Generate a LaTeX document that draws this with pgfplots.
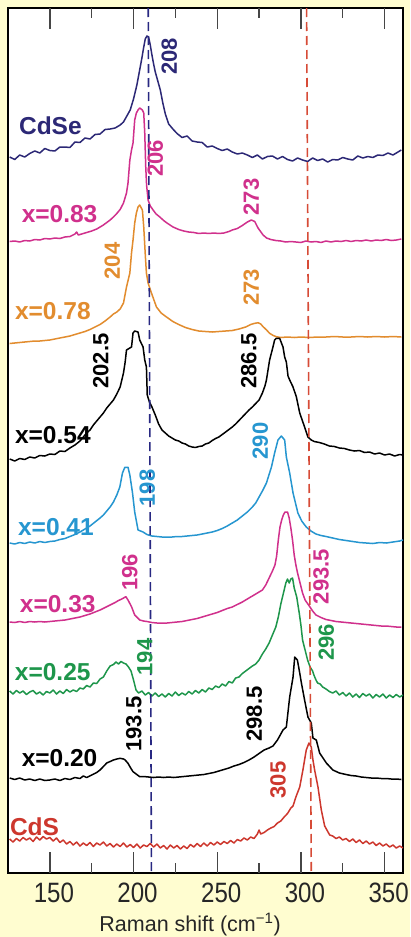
\documentclass[border=0pt]{standalone}
\usepackage{fontspec}
\setmainfont{Liberation Sans}
\newfontfamily\tickfont{Liberation Sans}[FakeStretch=0.86]
\usepackage{pgfplots}
\pgfplotsset{compat=1.18}

\definecolor{bgyellow}{RGB}{255,253,208}
\definecolor{cdse}{RGB}{44,40,118}
\definecolor{mag}{RGB}{208,48,140}
\definecolor{orng}{RGB}{226,140,46}
\definecolor{cyanb}{RGB}{38,150,208}
\definecolor{grn}{RGB}{30,150,75}
\definecolor{cds}{RGB}{205,55,45}
\definecolor{dashnavy}{RGB}{40,40,130}
\definecolor{dashred}{RGB}{215,75,55}
\definecolor{tickgray}{RGB}{70,70,70}

\tikzset{
  serieslabel/.style={anchor=west, inner sep=0pt, font=\bfseries\fontsize{24.5}{24.5}\selectfont},
  peaklabel/.style={rotate=90, inner sep=0pt, font=\bfseries\fontsize{22}{22}\selectfont},
  spec/.style={line width=1.5pt, line join=round},
  tickmark/.style={draw=tickgray, line width=1.4pt},
}

\begin{document}
\begin{tikzpicture}
\useasboundingbox (0,0) rectangle (410pt,937pt);
\fill[bgyellow] (0,0) rectangle (410pt,937pt);
\begin{axis}[
  at={(8pt,64pt)}, anchor=south west,
  width=395pt, height=865pt, scale only axis,
  xmin=125, xmax=361, ymin=8, ymax=873, y dir=reverse,
  axis background/.style={fill=white},
  axis line style={line width=1.6pt, black},
  xtick={150,200,250,300,350},
  ytick=\empty,
  major tick length=0pt,
  /pgf/number format/assume math mode=true,
  xticklabel style={font=\tickfont\fontsize{28}{28}\selectfont, text=black!85, xshift=4pt, yshift=-6pt},
  xlabel={Raman shift (cm\textsuperscript{−1})},
  xlabel style={font=\fontsize{21.5}{21.5}\selectfont, text=black!85, at={(axis description cs:0.461,0)}, anchor=north, inner sep=0pt, yshift=-40pt},
]

% tick marks on the lower and upper edges: major every 50, minor halfway
\pgfplotsinvokeforeach{150,200,250,300,350}{
  \addplot[tickmark] coordinates {(#1,873) (#1,852)};
  \addplot[tickmark] coordinates {(#1,8) (#1,29)};
}
\pgfplotsinvokeforeach{175,225,275,325}{
  \addplot[tickmark] coordinates {(#1,873) (#1,863)};
  \addplot[tickmark] coordinates {(#1,8) (#1,18)};
}

% CdSe
\addplot[spec, cdse] coordinates {
(126,157) (129,159.5) (132,155) (135,157) (138,153.5) (141,151) (144,153) (147,148.5) (150,150.5) (153,151)
(156,147) (159,147) (162,147.5) (165,142) (168,142.5) (171,138) (174,139) (177,134.5) (180,134) (183,129.5)
(186,129) (189,128) (192,125) (194,122) (196,116) (198,110) (200,99) (202,85) (203,76) (204,67) (205,58)
(206,48) (207,39) (208,36) (209,37) (210,45) (211,55) (212,64) (213,72) (214,78) (215,84) (216,90)
(217.5,103) (219,114) (221,124) (223.5,129) (226,133.5) (229,137.5) (232,136) (235,141) (238,142) (241,142.5)
(244,147) (247,146) (250,148.5) (253,150.5) (256,149) (259,152) (262,154) (265,153) (268,155) (271,157.5)
(274,155) (277,159) (280,156.5) (283,156) (286,159) (289,156.5) (292,159.5) (295,161) (298,158) (301,160)
(304,161.5) (307,158) (310,160.5) (313,159) (316,162) (319,159.5) (322,160) (325,157.5) (328,159) (331,160)
(334,156) (337,158) (340,156.5) (343,157.5) (346,155) (349,155.5) (352,153) (355,155) (358,152) (360,150)
};

% x = 0.83
\addplot[spec, mag] coordinates {
(126,241.5) (129,241) (132,242) (135,240.5) (138,241) (141,239.5) (144,240) (147,238.5) (150,239) (153,238)
(156,238.5) (159,237) (162,236.5) (165,234) (166,232) (167,235) (169,234) (172,232.5) (175,231) (178,229)
(180,227) (182,225) (184,222.5) (186,220) (188,217) (190,213.5) (192,209.5) (194,203) (195.8,193) (196.7,183)
(197.8,160) (198.8,150) (199.7,143) (200.7,120) (201.7,113) (202.7,110) (203.7,108) (205.3,110) (206.1,113)
(206.7,133) (207.3,167) (207.8,185) (208.7,200) (210,206) (211.7,210) (213.5,214) (215.7,217) (218,220.5)
(220,223) (223.6,227) (227,229.5) (230,231) (233,232) (236,232.5) (239,233.5) (242,233) (245,233.5) (248,233)
(251,233.5) (254,233) (257,231.5) (259,230) (262,228.5) (265,225.5) (268,222) (270.4,220) (272.4,221.5)
(274.4,228) (277.4,235) (279.5,238) (282,239.5) (285,240.5) (288,241) (291,242) (294,241.5) (297,242)
(300,242.5) (303,241) (306,242) (309,241.5) (312,242.5) (315,241) (318,242) (321,241) (324,241.5) (327,240.5)
(330,241.5) (333,240.5) (336,241) (339,240) (342,241) (345,240) (348,240.5) (351,239.5) (354,240.5) (357,240) (360,239)
};

% x = 0.78
\addplot[spec, orng] coordinates {
(126,343.5) (129,343) (132,342.5) (135,342) (138,341.5) (141,341) (144,341) (147,340.5) (150,340) (153,339)
(156,338) (159,337) (162,336) (165,334.5) (168,333) (171,331.5) (174,329.5) (177,327) (180,324.5) (183,321)
(186,317) (188,314) (190,312) (192,309) (194,303) (195.8,287) (197.8,273) (198.8,253) (199.7,240) (200.7,223)
(201.7,213) (202.7,207) (203.7,205) (205.3,210) (206.1,227) (207.1,257) (207.7,273) (208.7,283) (210.7,293)
(213.7,307) (216.5,313) (219.7,317) (223.5,321.5) (227,324.5) (231,327.5) (235,329.5) (239,331) (243,331.5)
(247,332) (251,331.5) (255,331) (259,330.5) (263,329) (267,327) (270,324.5) (272,323.5) (274.4,322.7) (276,324)
(277.4,326.7) (279.5,330) (281.3,333.3) (283.5,335.5) (285.3,336.7) (288,337.5) (292,337) (296,337.5) (300,337)
(305,337.5) (310,337) (315,337) (320,336.5) (325,337) (330,337) (335,336.5) (340,337) (345,336.5) (350,337) (355,336.5) (360,337)
};

% x = 0.54
\addplot[spec, black] coordinates {
(126,459) (129,461) (132,458.5) (135,459.5) (138,457) (141,458) (144,455.5) (147,456) (150,454) (153,454.5)
(156,451) (159,451.5) (162,448) (165,445) (168,441) (170,437) (172,433) (174,430) (176,425) (178,421)
(180,417) (182,413) (184,408) (186,404) (188,400) (190,394) (192,387) (194,373) (195,362) (195.8,350)
(198.8,347) (199.7,333) (200.7,331) (202.7,332) (203.7,340) (205.7,347) (206.7,360) (207.7,367) (208.2,395)
(209.5,402) (211,407) (213,415) (215,424) (217,430) (219,433) (221,436) (223,438) (225,440) (227,441)
(229,443) (231,444) (233,446) (235,447) (237,447.5) (239,446.5) (241,446) (243,444) (245,443) (247,440.5)
(249,438.5) (251,437) (253,434.5) (255,432) (257,429.5) (259,427) (261,424) (263,420.5) (265,417) (267,413.5)
(269,410) (271,407) (273,403.5) (275,400) (277,393) (278.5,386) (279.4,380) (281.3,360) (283.3,347) (284.3,340)
(285.3,338.3) (287.3,338.3) (289.3,347) (290.3,357) (291.3,362) (292.3,376) (293.3,380) (295.3,387) (297.3,397)
(299.3,413) (302.2,427) (304.2,437) (306.2,440) (308,441.5) (311,442.5) (314,444) (317,446) (320,446.5)
(323,448) (326,448.5) (329,450) (332,451) (335,450.5) (338,452.5) (341,452) (344,454) (347,453) (350,455)
(353,454) (356,456) (359,454.5) (361,455)
};

% x = 0.41
\addplot[spec, cyanb] coordinates {
(126,543) (129,544) (132,542.5) (135,543.5) (138,542) (141,543) (144,541.5) (147,542.5) (150,541.5) (153,541)
(156,539.5) (159,538.5) (162,536.5) (165,534.5) (168,532) (171,529) (174,526) (177,522) (180,518) (182,515)
(184,511) (186,507) (188,502) (190,495) (191.8,487) (193.4,473) (194.8,467.3) (196.7,467.3) (197.8,475)
(199.4,493) (200.7,512) (202.7,530) (205.7,532) (208,534.5) (211,536) (214,536.5) (217,537) (220,537)
(223,537) (226,536.5) (229,536.5) (232,536) (235,535.5) (238,535) (241,534) (244,533) (247,532) (250,530.5)
(253,528.5) (256,526) (259,523) (262,520) (265,516) (268,512) (271,507) (273,503) (275,497) (277,491)
(279.4,483) (282.4,467) (284.3,453) (286.3,440) (288.3,436) (290.3,440) (291.3,457) (293.3,473) (295.3,493)
(298.2,513) (300.5,521) (303.2,527) (306,531) (309,534) (312,535.5) (315,536.5) (319,538) (323,539.5)
(327,540.5) (331,541.5) (335,542.5) (339,543) (343,543.5) (347,542.5) (351,543) (355,542) (359,541) (361,540)
};

% x = 0.33
\addplot[spec, mag] coordinates {
(126,622) (129,622.5) (132,621.5) (135,622.5) (138,621.5) (141,622) (144,621.5) (147,622) (150,621.5) (153,621)
(156,620.5) (159,620) (162,619) (165,618) (168,617) (171,615.5) (174,614) (177,612) (180,610) (183,607.5)
(186,605) (189,602.5) (191,600.5) (193,599) (195.4,596.7) (196.7,600) (198.8,606.7) (200.7,615) (203.7,620)
(206,621) (208,621.5) (211,622.5) (214,623) (217,623) (220,623) (223,622.5) (226,622) (229,621.5) (232,620.5)
(235,619.5) (238,618.5) (241,617) (244,615.5) (247,614) (250,612.5) (253,610.5) (256,608.5) (259,607)
(262,604.5) (265,602) (268,599) (271,596) (274,593) (277,590) (279,585) (281,578) (283,571) (284.5,565)
(285.5,556) (286.5,540) (287.5,527) (288.5,520) (289.5,515) (290.5,512) (292,512) (293,518) (294,528)
(295,540) (296,555) (297,565) (298,573) (299.5,583) (301,593) (302.5,600) (305,606) (307,611) (309,615)
(312,617.5) (315,619.5) (318,620.5) (321,621.5) (324,622) (327,622.5) (330,623) (333,623.5) (336,624)
(339,624.5) (342,625) (345,625.5) (348,626) (351,626) (354,626.5) (357,627) (360,627)
};

% x = 0.25
\addplot[spec, grn] coordinates {
(126,691) (128,694) (130,690.5) (132,693) (134,691) (136,694.5) (138,692) (140,690.5) (142,694) (144,692)
(146,695) (148,691.5) (150,693) (152,690) (154,694) (156,691) (158,693.5) (160,689.5) (162,692) (164,690)
(166,691.5) (168,688) (170,689) (172,685.5) (174,687) (176,683) (178,683.5) (180,679) (182,677) (184,671)
(186,666) (188,664.5) (189.5,662) (191,664) (192.5,661.5) (194,663) (195.5,664) (197,667) (198.5,671)
(200,680) (201.5,690) (203,693) (205,691) (207,695) (209,692.5) (211,696) (213,693) (215,696.5) (217,694)
(219,697) (221,693.5) (223,696) (225,692) (227,695.5) (229,693) (231,695) (233,691.5) (235,694) (237,690.5)
(239,693) (241,689.5) (243,692) (245,688) (247,689.5) (249,686) (251,687.5) (253,684) (255,686) (257,681.5)
(259,683) (261,678) (263,677) (265,673.5) (267,671) (269,668.5) (271,666) (273,664) (275,660) (277,654)
(279,649) (281,643) (283,635) (285,627) (286.5,617) (288,604) (289,597) (290,590) (291,583) (292,579)
(293,583) (294,579) (295,578) (296,588) (297.5,597) (299,613) (300,625) (301,640) (302.5,650) (304,660)
(305.5,667) (307,671) (308,676) (309,680) (310,683) (311.5,684) (313,687) (315,689) (317,691.5) (319,693)
(321,691) (323,695) (325,692.5) (327,696) (329,693) (331,697) (333,694) (335,697.5) (337,693.5) (339,696)
(341,694) (343,698) (345,694.5) (347,697) (349,694) (351,698) (353,695) (355,697.5) (357,694.5) (359,697) (361,695)
};

% x = 0.20
\addplot[spec, black] coordinates {
(126,778) (129,779.5) (132,778) (135,780) (138,779) (141,780.5) (144,779) (147,780.5) (150,780) (153,779)
(156,780.5) (159,778.5) (162,779.5) (165,777.5) (168,778.5) (170,776) (172,777.5) (175,775) (178,772.5)
(180,770) (182,766.5) (184,763) (186,761.5) (188,760) (190,759) (192,758.3) (194,759) (195,760) (196.7,763.3)
(198.3,768) (199.7,771.7) (203.7,776.7) (206,776.5) (209,777) (212,777.5) (215,777) (218,777.5) (221,777)
(224,777.5) (227,777) (230,776.5) (233,776) (236,775.5) (239,775) (242,774.5) (245,773.5) (248,772.5)
(251,771) (254,769.5) (257,768) (260,766) (263,764.5) (266,762.5) (269,760) (272,757) (275,753.5) (278,750)
(281,748) (283.3,746) (286,740) (289.3,730) (291.3,727) (293.3,697) (295.3,677) (296.3,657) (297.9,660)
(299.3,673) (300.3,683) (302.2,700) (304.2,717) (306.2,723) (307.2,738) (309.2,740) (311.2,753) (315.2,763)
(319.1,770) (323,773) (327,774.5) (330,775.5) (333,776) (336,777) (339,777.5) (342,778) (345,778) (348,778.5)
(351,778.5) (354,779) (357,779) (360,779.5)
};

% CdS
\addplot[spec, cds] coordinates {
(126,839) (128,842) (130,838.5) (132,841) (134,837.5) (136,840) (138,838) (140,841.5) (142,837) (144,840)
(146,836.5) (148,839) (150,837.5) (152,841) (154,838) (156,842.5) (158,840) (160,844) (162,841.5) (164,845)
(166,842) (168,846) (170,843) (172,845.5) (174,842.5) (176,846.5) (178,843) (180,845) (182,842) (184,846)
(186,843.5) (188,847) (190,844) (192,846.5) (194,843) (196,847) (198,844.5) (200,847.5) (202,844) (204,848)
(206,845) (208,846.5) (210,843.5) (212,847) (214,844) (216,848) (218,845.5) (220,849) (222,845) (224,848)
(226,845.5) (228,849) (230,846) (232,848.5) (234,844.5) (236,847) (238,843.5) (240,846.5) (242,843) (244,846)
(246,842.5) (248,845) (250,842) (252,844.5) (254,841.5) (256,843.5) (258,840.5) (260,843) (262,839.5)
(264,841) (266,838) (268,840) (270,837) (272,838.5) (274,834) (275,830) (276,834) (278,832.5) (280,830)
(282,828) (284,826.5) (286,823) (288,821) (290,817) (292,813.5) (294,808) (295.3,806) (297,797) (299.3,787)
(301.2,770) (303.2,750) (304.8,743) (306.2,747) (307.2,760) (308.2,770) (310.2,787) (312.2,810) (314.2,826)
(317.2,835) (319,836) (321,838.5) (323,837) (325,840) (327,838.5) (329,841.5) (331,839) (333,842.5) (335,840)
(337,843.5) (339,841) (341,844) (343,842) (345,845.5) (347,843) (349,846) (351,844) (353,847) (355,845)
(357,848) (359,846) (361,848)
};

% reference positions of the CdSe and CdS LO modes
\addplot[dashnavy, line width=1.6pt, dash pattern=on 9pt off 5pt] coordinates {(208.8,8) (210.7,873)};
\addplot[dashred, line width=1.6pt, dash pattern=on 9pt off 5pt] coordinates {(303.4,8) (306.2,873)};

% sample names
\node[serieslabel, text=cdse]  at (axis cs:131.5,126) {CdSe};
\node[serieslabel, text=mag]   at (axis cs:133.1,214) {x=0.83};
\node[serieslabel, text=orng]  at (axis cs:129.1,311) {x=0.78};
\node[serieslabel, text=black] at (axis cs:129.1,435) {x=0.54};
\node[serieslabel, text=cyanb] at (axis cs:130.9,527) {x=0.41};
\node[serieslabel, text=mag]   at (axis cs:132.0,604) {x=0.33};
\node[serieslabel, text=grn]   at (axis cs:129.0,672) {x=0.25};
\node[serieslabel, text=black] at (axis cs:133.1,758) {x=0.20};
\node[serieslabel, text=cds]   at (axis cs:126.1,827) {CdS};

% peak positions
\node[peaklabel, text=cdse]  at (axis cs:221.3,56.5) {208};
\node[peaklabel, text=mag]   at (axis cs:213.0,158.5) {206};
\node[peaklabel, text=mag]   at (axis cs:270.4,197) {273};
\node[peaklabel, text=orng]  at (axis cs:187.3,261) {204};
\node[peaklabel, text=orng]  at (axis cs:270.4,287.5) {273};
\node[peaklabel, text=black] at (axis cs:180.4,361) {202.5};
\node[peaklabel, text=black] at (axis cs:268.8,361) {286.5};
\node[peaklabel, text=cyanb] at (axis cs:275.8,441) {290};
\node[peaklabel, text=cyanb] at (axis cs:208.2,488) {198};
\node[peaklabel, text=mag]   at (axis cs:197.8,572.5) {196};
\node[peaklabel, text=mag]   at (axis cs:312.1,576.5) {293.5};
\node[peaklabel, text=grn]   at (axis cs:206.7,657) {194};
\node[peaklabel, text=grn]   at (axis cs:315.1,642.5) {296};
\node[peaklabel, text=black] at (axis cs:200.1,724) {193.5};
\node[peaklabel, text=black] at (axis cs:272.1,714) {298.5};
\node[peaklabel, text=cds]   at (axis cs:286.4,780) {305};
\end{axis}
\end{tikzpicture}
\end{document}
